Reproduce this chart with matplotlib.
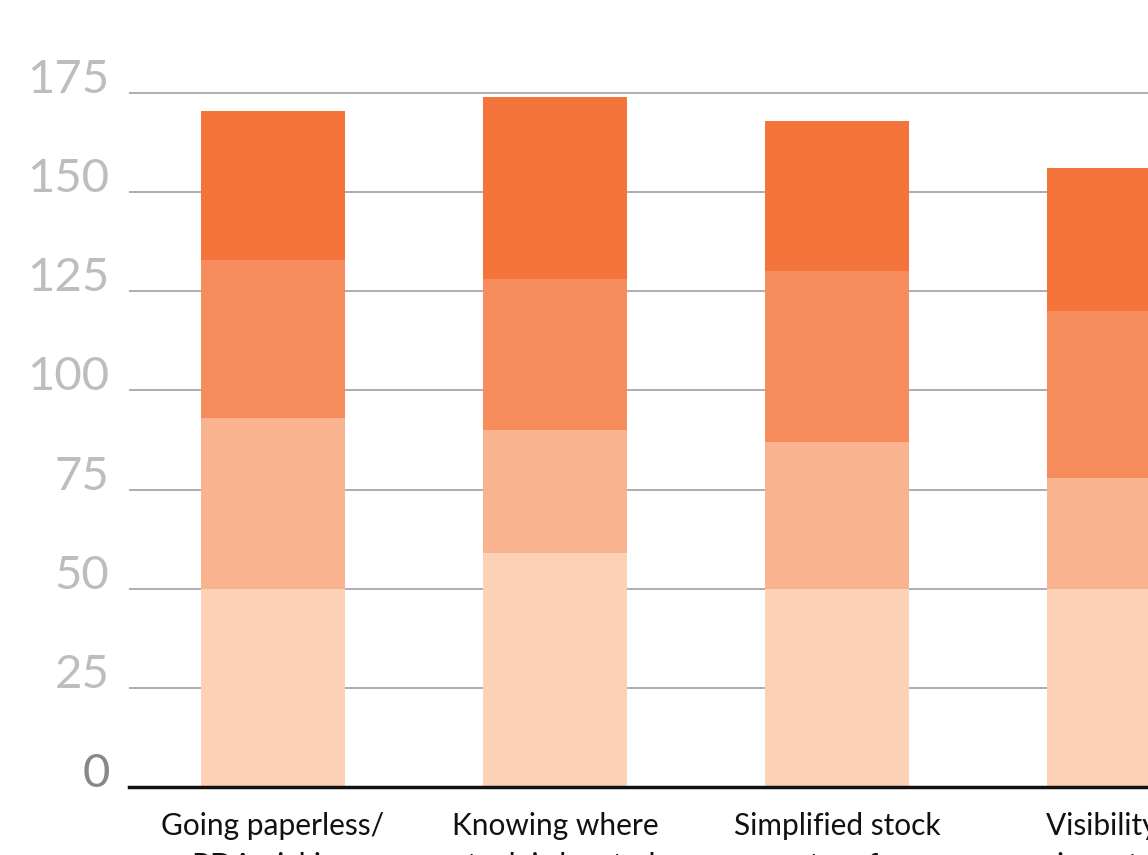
import numpy as np
import matplotlib
matplotlib.use("Agg")
from matplotlib import pyplot as plt

# data
categories = ["Going paperless/\nPDA picking",
              "Knowing where\nstock is located",
              "Simplified stock\nsystem for",
              "Visibility of\ninventory"]
level1 = [50, 59, 50, 50]
level2 = [43, 31, 37, 28]
level3 = [40, 38, 43, 42]
level4 = [37.5, 46, 38, 36]
yticks = [0, 25, 50, 75, 100, 125, 150, 175]

colors = ["#FCD1B7", "#F9B48F", "#F68C5C", "#F4743C"]

W, H = 1148, 855
fig = plt.figure(figsize=(W / 100, H / 100), dpi=100)
px = 694 / 175  # pixels per unit
ax = fig.add_axes([129 / W, 68 / H, (W - 129) / W, 180 * px / H])

x = np.arange(len(categories))
bottom = np.zeros(len(categories))
for vals, c in zip([level1, level2, level3, level4], colors):
    ax.bar(x, vals, width=0.51, bottom=bottom, color=c, zorder=3)
    bottom += np.array(vals)

ax.set_ylim(0, 180)
ax.set_xlim(-0.51, (W - 273) / 282)
ax.set_yticks(yticks)
ax.set_xticks(x)
ax.set_xticklabels(categories, fontsize=21.5, family="Lato",
                   color="#111111", linespacing=1.5)
ax.yaxis.grid(True, color="#A8A8A8", linewidth=1.3, zorder=0)
ax.set_axisbelow(True)

for s in ["top", "right", "left"]:
    ax.spines[s].set_visible(False)
ax.spines["bottom"].set_color("#111111")
ax.spines["bottom"].set_linewidth(2.5)
ax.spines["bottom"].set_zorder(4)

ax.tick_params(axis="y", length=0, pad=14)
ax.tick_params(axis="x", length=0, pad=18)
for lab in ax.get_yticklabels():
    lab.set_fontsize(34)
    lab.set_family("Lato")
    lab.set_color("#BDBDBD")
    lab.set_verticalalignment("baseline")
ax.get_yticklabels()[0].set_color("#8C8686")

fig.savefig("out.png", dpi=100)
